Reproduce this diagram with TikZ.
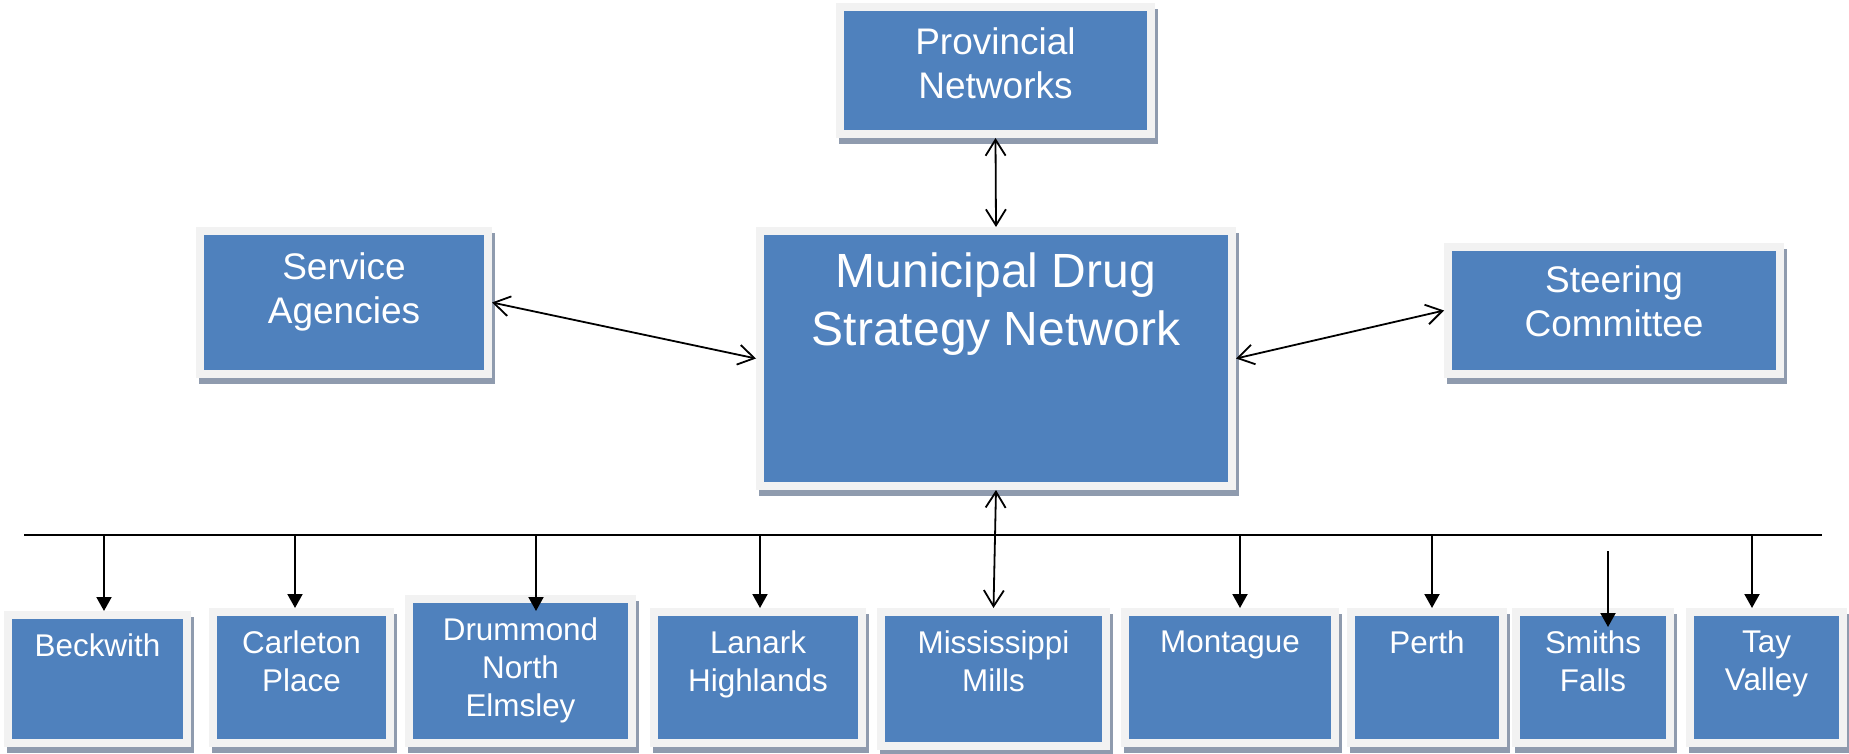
\documentclass[tikz,border=0pt]{standalone}
\usepackage{fontspec}
\setmainfont{Liberation Sans}
\usetikzlibrary{arrows.meta, shadows}
\definecolor{boxblue}{RGB}{79,129,189}
\definecolor{rimgray}{RGB}{242,242,242}
\definecolor{shadegray}{RGB}{143,155,174}

\begin{document}
\begin{tikzpicture}[x=0.5pt, y=-0.5pt]
		% Styles for boxes, texts and connectors
		\tikzset{unit/.style={rectangle, fill=rimgray, inner sep=0pt, outer sep=0pt,
				drop shadow={shadow xshift=1.5pt, shadow yshift=-3pt, fill=shadegray, opacity=1},
				path picture={\fill[boxblue] ([shift={(4pt,-4pt)}]path picture bounding box.north west) rectangle ([shift={(-4pt,4pt)}]path picture bounding box.south east);}}}
		\tikzset{txt/.style={text=white, align=center, inner sep=0pt, anchor=north}}
		\tikzset{bigtxt/.style={txt, font=\fontsize{24pt}{29pt}\selectfont}}
		\tikzset{midtxt/.style={txt, font=\fontsize{18.5pt}{22pt}\selectfont}}
		\tikzset{smalltxt/.style={txt, font=\fontsize{15.7pt}{19pt}\selectfont}}
		\tikzset{both/.style={{Straight Barb[length=8pt,width=10pt]}-{Straight Barb[length=8pt,width=10pt]}, line width=0.9pt}}
		\tikzset{drop/.style={-{Triangle[length=7pt,width=7.5pt]}, line width=1pt}}
		
		\useasboundingbox (0,0) rectangle (1849,754);
		
		% Top row
		\node[unit, minimum width=159.5pt, minimum height=67.5pt] (prov) at (995.5,70.5) {};
		\node[unit, minimum width=148pt, minimum height=75.5pt] (serv) at (344,302.5) {};
		\node[unit, minimum width=240pt, minimum height=131.5pt] (main) at (996,358.5) {};
		\node[unit, minimum width=170pt, minimum height=67.5pt] (steer) at (1614,310.5) {};
		
		\node[midtxt] (tprov) at ([yshift=-12pt]prov.north) {Provincial\\Networks};
		\node[midtxt] (tserv) at ([yshift=-12.5pt]serv.north) {Service\\Agencies};
		\node[bigtxt] (tmain) at ([yshift=-12.5pt]main.north) {Municipal Drug\\Strategy Network};
		\node[midtxt] (tsteer) at ([yshift=-11pt]steer.north) {Steering\\Committee};
		
		% Municipalities
		\node[unit, minimum width=93.5pt, minimum height=68pt] (beck) at (97.5,679) {};
		\node[unit, minimum width=92.5pt, minimum height=69.5pt] (carl) at (301.5,677.5) {};
		\node[unit, minimum width=115.5pt, minimum height=76pt] (drum) at (520.5,671) {};
		\node[unit, minimum width=108pt, minimum height=69.5pt] (lan) at (758,677.5) {};
		\node[unit, minimum width=116.5pt, minimum height=71pt] (miss) at (993.5,679) {};
		\node[unit, minimum width=109pt, minimum height=69.5pt] (mont) at (1230,677.5) {};
		\node[unit, minimum width=80pt, minimum height=69.5pt] (perth) at (1427,677.5) {};
		\node[unit, minimum width=81pt, minimum height=69.5pt] (smith) at (1593,677.5) {};
		\node[unit, minimum width=80.5pt, minimum height=69.5pt] (tay) at (1766.5,677.5) {};
		
		\node[smalltxt] (tbeck) at ([yshift=-11pt]beck.north) {Beckwith};
		\node[smalltxt] (tcarl) at ([yshift=-11pt]carl.north) {Carleton\\Place};
		\node[smalltxt] (tdrum) at ([yshift=-11pt]drum.north) {Drummond\\North\\Elmsley};
		\node[smalltxt] (tlan) at ([yshift=-11pt]lan.north) {Lanark\\Highlands};
		\node[smalltxt] (tmiss) at ([yshift=-11pt]miss.north) {Mississippi\\Mills};
		\node[smalltxt] (tmont) at ([yshift=-11pt]mont.north) {Montague};
		\node[smalltxt] (tperth) at ([yshift=-11pt]perth.north) {Perth};
		\node[smalltxt] (tsmith) at ([yshift=-11pt]smith.north) {Smiths\\Falls};
		\node[smalltxt] (ttay) at ([yshift=-11pt]tay.north) {Tay\\Valley};
		
		% Links to the network
		\draw[both] (prov.south) -- (main.north);
		\draw[both] (serv.east) -- (main.west);
		\draw[both] (main.east) -- (steer.west);
		\draw[both] (main.south) -- (miss.north);
		
		% Bus and drops
		\coordinate (busL) at (24,535);
		\coordinate (busR) at (1822,535);
		\draw[line width=1pt] (busL) -- (busR);
		
		\coordinate (d1) at (104,535);
		\coordinate (d2) at (295,535);
		\coordinate (d3) at (536,535);
		\coordinate (d4) at (760,535);
		\coordinate (d5) at (1240,535);
		\coordinate (d6) at (1432,535);
		\coordinate (d7) at (1608,551); % starts below the bus
		\coordinate (d8) at (1752,535);
		\draw[drop] (d1) -- (d1 |- beck.north);
		\draw[drop] (d2) -- (d2 |- carl.north);
		\draw[drop] (d3) -- ([yshift=-8pt]d3 |- drum.north);
		\draw[drop] (d4) -- (d4 |- lan.north);
		\draw[drop] (d5) -- (d5 |- mont.north);
		\draw[drop] (d6) -- (d6 |- perth.north);
		\draw[drop] (d7) -- ([yshift=-9.5pt]d7 |- smith.north);
		\draw[drop] (d8) -- (d8 |- tay.north);
	\end{tikzpicture}
\end{document}
